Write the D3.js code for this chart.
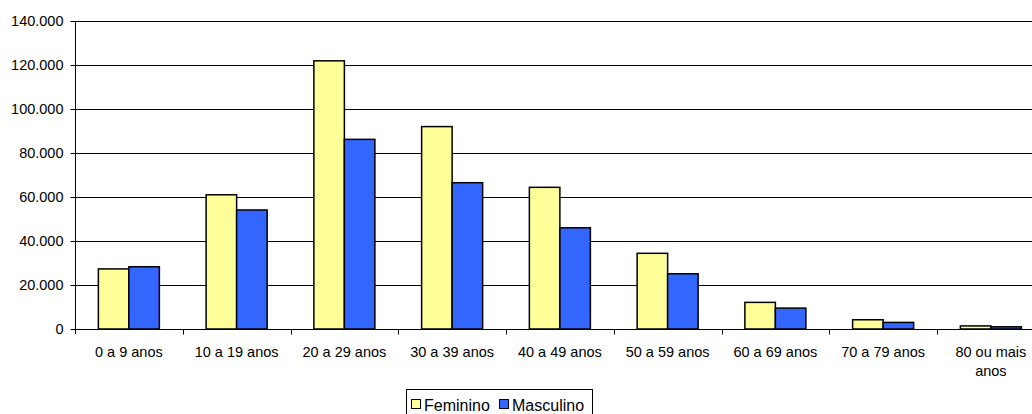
<!DOCTYPE html>
<html><head><meta charset="utf-8">
<script src="https://cdn.jsdelivr.net/npm/d3@7"></script>
<style>
html,body{margin:0;padding:0;background:#fff;overflow:hidden}
svg{display:block}
text{font-family:"Liberation Sans",Arial,sans-serif;fill:#000}
</style></head>
<body>
<svg id="chart" width="1032" height="414"></svg>
<script>
const categories = ["0 a 9 anos","10 a 19 anos","20 a 29 anos","30 a 39 anos","40 a 49 anos","50 a 59 anos","60 a 69 anos","70 a 79 anos","80 ou mais anos"];
const seriesNames = ["Feminino","Masculino"];
const feminino = [27300, 61000, 121900, 92000, 64400, 34400, 12100, 4200, 1400];
const masculino = [28300, 54100, 86200, 66500, 46000, 25100, 9500, 3000, 1000];
const yTicks = [0, 20000, 40000, 60000, 80000, 100000, 120000, 140000];
const colors = ["#FFFF99", "#3366FF"];

(function() {
const svg = d3.select("#chart");
const mLeft = 75, mTop = 21, mBottom = 329, step = 107.75;
const fs = "14.5px";

const x0 = d3.scaleBand().domain(categories).range([mLeft, mLeft + step * categories.length]).paddingInner(0).paddingOuter(0);
const x1 = d3.scaleBand().domain(seriesNames).range([0, x0.bandwidth()]).paddingOuter(0.766).paddingInner(0);
const y = d3.scaleLinear().domain([0, 140000]).range([mBottom, mTop]);

const fmt = v => v === 0 ? "0" : d3.format(",")(v).replace(/,/g, ".");

// gridlines
svg.append("g").selectAll("line").data(yTicks.filter(d => d > 0)).join("line")
  .attr("x1", mLeft).attr("x2", x0.range()[1])
  .attr("y1", d => Math.round(y(d)) + 0.5).attr("y2", d => Math.round(y(d)) + 0.5)
  .attr("stroke", "#000").attr("stroke-width", 1);

// y axis
const yAxis = d3.axisLeft(y).tickValues(yTicks).tickSize(5).tickPadding(7).tickFormat(fmt);
const gy = svg.append("g").attr("transform", `translate(${mLeft + 0.5},0)`).call(yAxis);
gy.selectAll("text").style("font-size", fs).style("font-family", "Liberation Sans, Arial, sans-serif");
gy.select(".domain").attr("d", `M0,${mTop}V${mBottom + 5}`);

// bars
const data = categories.map((c, i) => ({c, vals: [feminino[i], masculino[i]]}));
const groups = svg.append("g").selectAll("g").data(data).join("g")
  .attr("transform", d => `translate(${x0(d.c)},0)`);
groups.selectAll("rect").data(d => d.vals.map((v, j) => ({s: seriesNames[j], v, j}))).join("rect")
  .attr("x", d => x1(d.s)).attr("width", x1.bandwidth())
  .attr("y", d => y(d.v)).attr("height", d => y(0) - y(d.v))
  .attr("fill", d => colors[d.j]).attr("stroke", "#000").attr("stroke-width", 1.5);

// x axis
const gx = svg.append("g").attr("transform", `translate(0,${mBottom + 0.5})`);
gx.append("line").attr("x1", mLeft).attr("x2", x0.range()[1]).attr("stroke", "#000");
gx.selectAll("line.tk").data(categories).join("line").attr("class", "tk")
  .attr("x1", (d, i) => Math.round(mLeft + step * (i + 1)) + 0.5)
  .attr("x2", (d, i) => Math.round(mLeft + step * (i + 1)) + 0.5)
  .attr("y1", 0).attr("y2", 5).attr("stroke", "#000");

const labels = svg.append("g").selectAll("text").data(categories).join("text")
  .attr("text-anchor", "middle").style("font-size", fs)
  .attr("transform", d => `translate(${x0(d) + x0.bandwidth() / 2},${mBottom + 28})`);
labels.each(function(d) {
  const t = d3.select(this);
  const lines = d === "80 ou mais anos" ? ["80 ou mais", "anos"] : [d];
  lines.forEach((l, k) => t.append("tspan").attr("x", 0).attr("dy", k === 0 ? 0 : 19).text(l));
});

// legend
const lg = svg.append("g");
lg.append("rect").attr("x", 406.5).attr("y", 389.5).attr("width", 186).attr("height", 40)
  .attr("fill", "#fff").attr("stroke", "#000");
const items = [{n: seriesNames[0], x: 411, c: colors[0]}, {n: seriesNames[1], x: 499, c: colors[1]}];
items.forEach(it => {
  lg.append("rect").attr("x", it.x + 0.5).attr("y", 399.5).attr("width", 9).attr("height", 9)
    .attr("fill", it.c).attr("stroke", "#000").attr("stroke-width", 1);
  lg.append("text").attr("x", it.x + 13).attr("y", 411).style("font-size", "16px").text(it.n);
});
})();
</script>
</body></html>
